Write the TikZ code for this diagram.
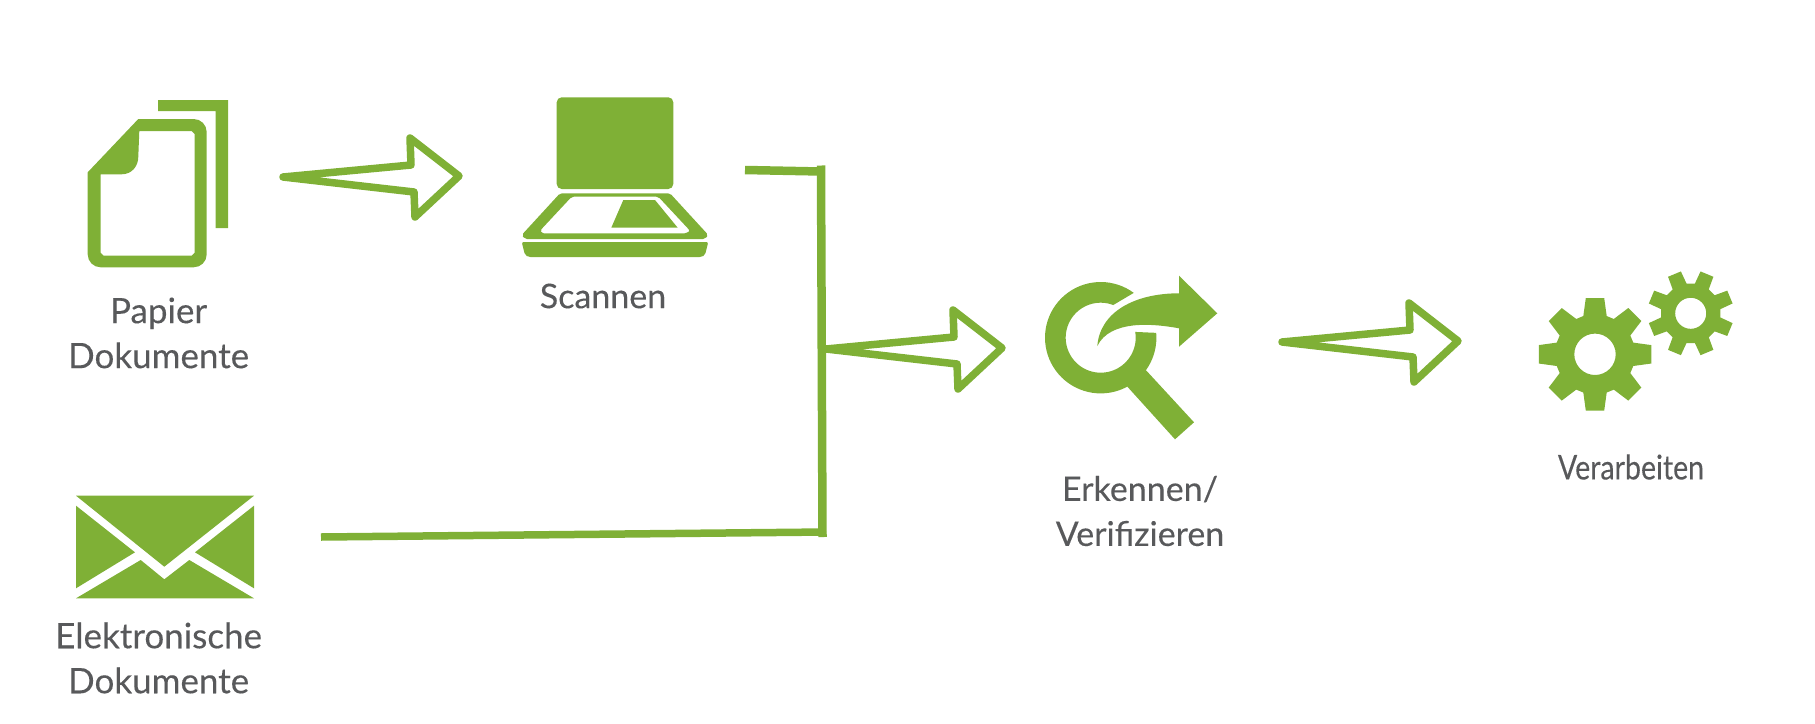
\documentclass[tikz,border=0pt]{standalone}
\usepackage{fontspec}
\setmainfont[FakeBold=0.2]{Lato}
\newfontfamily\narrowlato[FakeStretch=0.84,FakeBold=0.2]{Lato}
\definecolor{leaf}{HTML}{7FB036}
\definecolor{ink}{HTML}{58595B}
\tikzset{
  icon/.style={fill=leaf,draw=none},
  holed/.style={fill=leaf,draw=none,even odd rule},
  flow/.style={draw=leaf,line width=7.5pt,line join=round,line cap=round},
  rail/.style={draw=leaf,line width=8.5pt},
  railthin/.style={draw=leaf,line width=7.5pt},
  lbl/.style={text=ink,font=\fontsize{34}{45}\selectfont,align=center,inner sep=0pt},
  lblwide/.style={text=ink,font=\fontsize{35}{45}\selectfont,align=center,inner sep=0pt}
}
\newcommand{\hollowarrow}[1]{\draw[flow] (#1) -- +(128,-12) -- +(127,-39) -- +(176,-1) -- +(132,40) -- +(131,15) -- cycle;}
\newcommand{\gearshape}[5]{%
  \begin{scope}[shift={#1}]
  \fill[holed] (#5-#4:#3)
    \foreach \a in {0,45,...,315} {
      -- ({#5+\a-#4}:#3) -- ({#5+\a-9.3}:#2) -- ({#5+\a+9.3}:#2) -- ({#5+\a+#4}:#3)
    } -- cycle (0,0) circle[radius=20.7*#3/40];
  \end{scope}}
\begin{document}
\begin{tikzpicture}[x=1pt,y=-1pt]
\useasboundingbox (0,0) rectangle (1815,723);
% Paper documents
\fill[icon] (158,100) -- (228,100) -- (228,228) -- (215.7,228) -- (215.7,111) -- (158,111) -- cycle;
\fill[holed] (138.3,119) -- (193.7,119) .. controls (200.9,119) and (206.7,124.8) .. (206.7,132) -- (206.7,254.3)
  .. controls (206.7,261.5) and (200.9,267.3) .. (193.7,267.3) -- (100.7,267.3)
  .. controls (93.5,267.3) and (87.7,261.5) .. (87.7,254.3) -- (87.7,172.3) -- cycle
  (139.3,131) -- (191.7,131) -- (194.7,134) -- (194.7,252.7) -- (191.7,255.7) -- (103.7,255.7) -- (100.7,252.7) -- (100.7,174.3) -- (121.7,174.3)
  .. controls (132,174.3) and (138.3,166) .. (138.3,156.7) -- cycle;
% Scanner
\fill[icon,rounded corners=5pt] (556.7,97.3) rectangle (673.3,189);
\fill[holed,rounded corners=2pt] (560,193.3) -- (670,193.3) -- (708.3,235) -- (705,239) -- (525,239) -- (521.7,235) -- cycle
  (571.7,196.7) -- (658.3,196.7) -- (690,230.7) -- (686.7,233.3) -- (541.7,233.3) -- (540,230.7) -- cycle;
\fill[icon] (623.3,200) -- (655,200) -- (677.7,227.7) -- (611.3,227.7) -- cycle;
\fill[icon,rounded corners=2pt] (521.7,242) -- (708.3,242) -- (705,255) -- (701.7,257) -- (528.3,257) -- (525,255) -- cycle;
% Envelope
\fill[icon] (76,495.7) -- (254,495.7) -- (164.3,566.7) -- cycle;
\fill[icon] (76,505.7) -- (135,552.3) -- (76,588.3) -- cycle;
\fill[icon] (254,505.7) -- (195,552.3) -- (254,588.3) -- cycle;
\fill[icon] (76,598.3) -- (140.7,560) -- (164.3,579.3) -- (189.3,560) -- (254,598.3) -- cycle;
% Magnifier
\begin{scope}[shift={(1100.7,337.7)}]
\fill[icon] plot[domain=-53.6:-365,samples=70] (\x:55.7) -- plot[domain=-369.5:-69,samples=70] (\x:35) -- cycle;
\end{scope}
\fill[icon] (1146.7,371) -- (1194,422.3) -- (1175,439.3) -- (1128.3,387.7) -- (1122,380) -- (1140,364) -- cycle;
\fill[icon] (1097.3,346) .. controls (1100,311.7) and (1135,293.3) .. (1179,293.3) -- (1179,275.7) -- (1217.3,313.3) -- (1179,346.7) -- (1179,328.3)
  .. controls (1151.7,323.3) and (1110,320) .. (1097.3,346) -- cycle;
% Gears
\gearshape{(1595,354.3)}{57}{40}{17}{0}
\gearshape{(1690.7,313.3)}{43}{30}{14.5}{22.5}
% Connector ends
\coordinate (scanout) at (745,170);
\coordinate (railtop) at (821,171.5);
\coordinate (railtopcap) at (821,165.5);
\coordinate (railfoot) at (822.5,537);
\coordinate (mailout) at (321,537);
\coordinate (railjoin) at (826,532);
\coordinate (arrowA) at (283,177);
\coordinate (arrowB) at (826,349);
\coordinate (arrowC) at (1282,342);
\draw[rail] (scanout) -- (railtop);
\draw[rail] (railtopcap) -- (railfoot);
\draw[railthin] (mailout) -- (railjoin);
\hollowarrow{arrowA}
\hollowarrow{arrowB}
\hollowarrow{arrowC}
% Labels
\node[lblwide] (paper) at (158.6,333) {Papier\\Dokumente};
\node[lbl] (scan) at (603,296) {Scannen};
\node[lblwide] (mail) at (158.6,658) {Elektronische\\Dokumente};
\node[lbl] (recog) at (1140,511) {Erkennen/\\Verifizieren};
\node[lbl] (proc) at (1631,467) {\narrowlato Verarbeiten};
\end{tikzpicture}
\end{document}
